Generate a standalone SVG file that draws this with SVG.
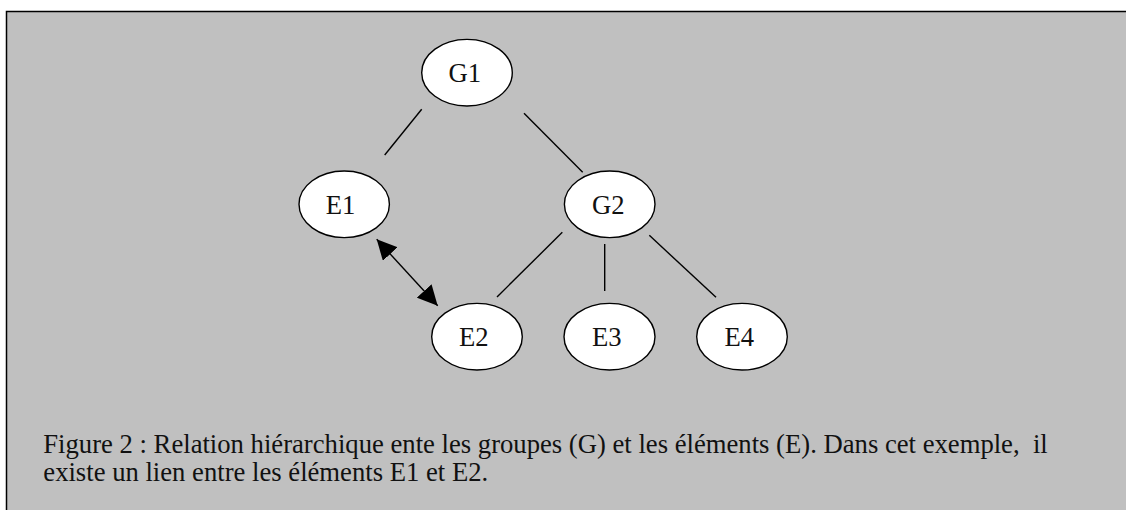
<svg xmlns="http://www.w3.org/2000/svg" width="1126" height="510" viewBox="0 0 1126 510">
<style>
.node ellipse{fill:#fff;stroke:#000;stroke-width:1.4}
.node text{font-family:"Liberation Serif","Times New Roman",serif;font-size:26.67px;fill:#111;text-anchor:middle}
.conn line{stroke:#000;stroke-width:1.4}
.cap{font-family:"Liberation Serif","Times New Roman",serif;font-size:26.67px;fill:#111;white-space:pre}
</style>
<defs>
<marker id="ah" markerUnits="userSpaceOnUse" markerWidth="20" markerHeight="20" refX="20" refY="10" orient="auto-start-reverse" viewBox="0 0 20 20">
<path d="M0,0 L20,10 L0,20 z" fill="#000"/>
</marker>
</defs>
<rect x="0" y="0" width="1126" height="510" fill="#fff"/>
<rect x="6.5" y="11.5" width="1130" height="520" fill="#c0c0c0" stroke="#000" stroke-width="1.5"/>
<g class="conn" id="connectors">
<line x1="421.7" y1="109.3" x2="384.7" y2="155"/>
<line x1="524" y1="113.3" x2="582.7" y2="172.3"/>
<line x1="562.3" y1="232.3" x2="497" y2="297"/>
<line x1="604.7" y1="244" x2="604.7" y2="291"/>
<line x1="649.3" y1="235.3" x2="716" y2="297.3"/>
<line x1="376.7" y1="239.3" x2="437.7" y2="305.7" marker-start="url(#ah)" marker-end="url(#ah)"/>
</g>
<g class="node" id="G1"><ellipse cx="467" cy="72.7" rx="45.3" ry="33.3"/><text x="464.7" y="82.3">G1</text></g>
<g class="node" id="E1"><ellipse cx="344.2" cy="204.3" rx="45.2" ry="33.3"/><text x="340.5" y="213.5">E1</text></g>
<g class="node" id="G2"><ellipse cx="609.7" cy="204.3" rx="45.3" ry="33.3"/><text x="608.3" y="213.5">G2</text></g>
<g class="node" id="E2"><ellipse cx="477" cy="336.7" rx="45.3" ry="33.3"/><text x="473.8" y="345.7">E2</text></g>
<g class="node" id="E3"><ellipse cx="609.5" cy="336.7" rx="45.5" ry="33.3"/><text x="606.7" y="345.7">E3</text></g>
<g class="node" id="E4"><ellipse cx="742" cy="336.7" rx="45.3" ry="33.3"/><text x="739.2" y="345.7">E4</text></g>
<text class="cap" x="43.3" y="453.3" xml:space="preserve">Figure 2 : Relation hiérarchique ente les groupes (G) et les éléments (E). Dans cet exemple,  il</text>
<text class="cap" x="43.3" y="481">existe un lien entre les éléments E1 et E2.</text>
</svg>
